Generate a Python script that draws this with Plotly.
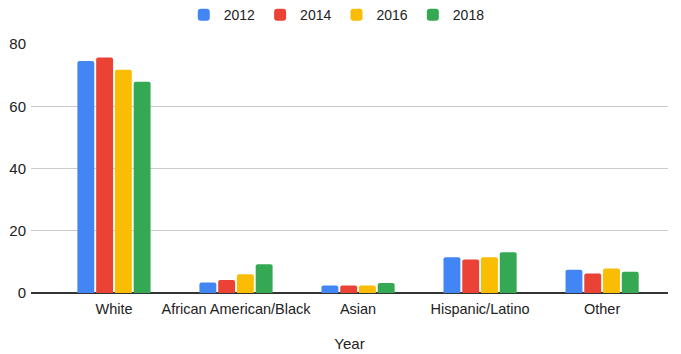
import plotly.graph_objects as go

categories = ["White", "African American/Black", "Asian", "Hispanic/Latino", "Other"]
years = ["2012", "2014", "2016", "2018"]
v2012 = [74.5, 3.4, 2.4, 11.5, 7.5]
v2014 = [75.7, 4.2, 2.4, 10.8, 6.3]
v2016 = [71.7, 6.0, 2.4, 11.5, 7.9]
v2018 = [67.9, 9.2, 3.2, 13.1, 6.8]
colors = ["#4285F4", "#EA4335", "#FBBC04", "#34A853"]
yticks = [0, 20, 40, 60, 80]

series = [v2012, v2014, v2016, v2018]
fig = go.Figure()
for name, vals, col in zip(years, series, colors):
    fig.add_trace(go.Bar(x=categories, y=vals, name=name, marker=dict(color=col, line=dict(width=0))))

fig.update_layout(
    width=681, height=354,
    margin=dict(l=31, r=13, t=44, b=61, autoexpand=False),
    paper_bgcolor="white", plot_bgcolor="white",
    font=dict(family="Arial, Liberation Sans", size=14, color="#222222"),
    barmode="group", bargap=0.385, bargroupgap=0.1, barcornerradius=2,
    showlegend=True,
    legend=dict(orientation="h", x=0.48, xanchor="center", y=1.18, yanchor="top",
                yref="paper", font=dict(size=14, color="#222222"), itemwidth=30),
    xaxis=dict(range=[-0.68, 4.54], showgrid=False, showline=False, ticks="", automargin=False,
               tickfont=dict(size=14.5, color="#222222"), ticklabelstandoff=5,
               title=dict(text="Year", font=dict(size=15, color="#222222"), standoff=22)),
    yaxis=dict(range=[0, 80], tickvals=yticks, showgrid=True, gridcolor="#cccccc", gridwidth=1,
               zeroline=True, zerolinecolor="#333333", zerolinewidth=1.5, automargin=False,
               tickfont=dict(size=15, color="#222222"), ticks="", ticklabelstandoff=4),
)
fig.write_html("out.html")
